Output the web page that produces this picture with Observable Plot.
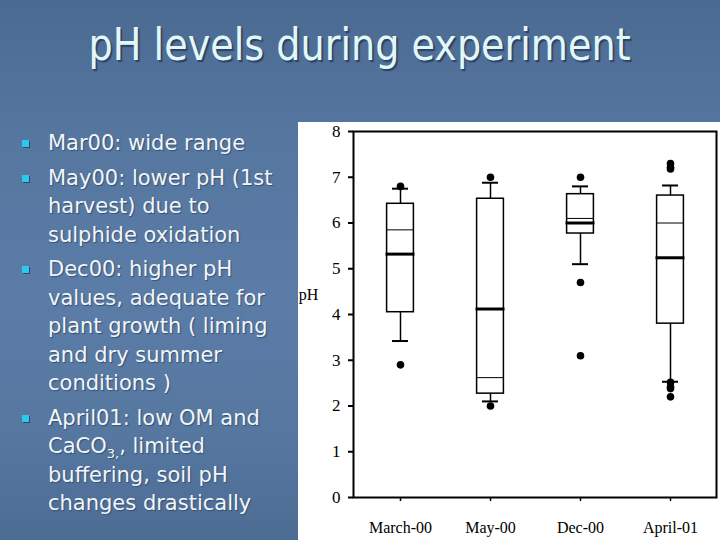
<!DOCTYPE html>
<html>
<head>
<meta charset="utf-8">
<script src="https://cdn.jsdelivr.net/npm/d3@7"></script>
<script src="https://cdn.jsdelivr.net/npm/@observablehq/plot@0.6"></script>
<style>
  html, body { margin: 0; padding: 0; }
  body {
    width: 720px; height: 540px; overflow: hidden; position: relative;
    background: linear-gradient(180deg, #4b6a92 0%, #55769f 25%, #5a7ca6 55%, #5577a0 80%, #4d6c94 100%);
    font-family: "DejaVu Sans", sans-serif;
  }
  #title {
    position: absolute; left: 0; width: 720px; top: 19px; text-align: center;
    font-size: 44px; color: #e2f8f8; white-space: nowrap;
    text-shadow: 2px 2px 1px #2a4266;
  }
  #title span { display: inline-block; transform: scaleX(0.867); transform-origin: center; }
  #bullets {
    position: absolute; left: 0; top: 129px; width: 298px;
    color: #f2f6f6; font-size: 21px; line-height: 28.5px;
    text-shadow: 1px 1px 1px #33507a;
  }
  .item { position: relative; padding-left: 48px; margin-bottom: 6px; white-space: nowrap; }
  .item::before {
    content: ""; position: absolute; left: 22px; top: 11px; width: 7px; height: 7px;
    background: #2ec8ee; box-shadow: 1px 1px 0 #2a4a70;
  }
  sub { font-size: 13px; line-height: 0; vertical-align: -5px; }
  #panel { position: absolute; left: 298px; top: 122px; width: 422px; height: 418px; background: white; }
</style>
</head>
<body>
<div id="title"><span>pH levels during experiment</span></div>
<div id="bullets">
  <div class="item">Mar00: wide range</div>
  <div class="item">May00: lower pH (1st<br>harvest) due to<br>sulphide oxidation</div>
  <div class="item">Dec00: higher pH<br>values, adequate for<br>plant growth ( liming<br>and dry summer<br>conditions )</div>
  <div class="item">April01: low OM and<br>CaCO<sub>3,</sub>, limited<br>buffering, soil pH<br>changes drastically</div>
</div>
<div id="panel"></div>
<script>
const categories = ["March-00", "May-00", "Dec-00", "April-01"];
const q1 = [4.05, 2.27, 5.77, 3.80];
const q3 = [6.42, 6.53, 6.63, 6.60];
const medians = [5.32, 4.12, 6.00, 5.24];
const means = [5.85, 2.62, 6.10, 6.00];
const whiskerLow = [3.42, 2.10, 5.10, 2.53];
const whiskerHigh = [6.75, 6.88, 6.80, 6.82];
const outlierCats = ["March-00", "March-00", "May-00", "May-00", "Dec-00", "Dec-00", "Dec-00",
  "April-01", "April-01", "April-01", "April-01", "April-01", "April-01", "April-01"];
const outlierValues = [6.80, 2.90, 7.00, 2.00, 7.00, 4.70, 3.10,
  7.30, 7.22, 7.18, 2.52, 2.42, 2.38, 2.20];
const yTicks = [0, 1, 2, 3, 4, 5, 6, 7, 8];
const yLabel = "pH";

const idx = categories.map((_, i) => i);
const outliers = outlierCats.map((c, i) => ({cat: c, value: outlierValues[i]}));

const chart = Plot.plot({
  width: 422, height: 418,
  marginLeft: 55, marginRight: 4, marginTop: 9, marginBottom: 43,
  style: {fontFamily: "'Liberation Serif', serif", fontSize: "16px", background: "white", color: "black", overflow: "visible"},
  x: {domain: categories, padding: 0, label: null},
  y: {domain: [0, 8], label: null},
  marks: [
    Plot.frame({stroke: "black", strokeWidth: 2}),
    Plot.axisY({ticks: yTicks, tickSize: 5, tickPadding: 8, label: null, fontSize: 17, strokeWidth: 2}),
    Plot.axisX({tickSize: 4, tickPadding: 20, label: null, fontSize: 16, strokeWidth: 1.5}),
    Plot.text([yLabel], {frameAnchor: "left", dx: -45, dy: -20, text: d => d, fontSize: 16, textAnchor: "middle"}),
    Plot.ruleX(idx, {x: i => categories[i], y1: i => whiskerLow[i], y2: i => q1[i], stroke: "black", strokeWidth: 1.5}),
    Plot.ruleX(idx, {x: i => categories[i], y1: i => q3[i], y2: i => whiskerHigh[i], stroke: "black", strokeWidth: 1.5}),
    Plot.tickY(idx, {x: i => categories[i], y: i => whiskerLow[i], insetLeft: 37, insetRight: 37, stroke: "black", strokeWidth: 2}),
    Plot.tickY(idx, {x: i => categories[i], y: i => whiskerHigh[i], insetLeft: 37, insetRight: 37, stroke: "black", strokeWidth: 2}),
    Plot.barY(idx, {x: i => categories[i], y1: i => q1[i], y2: i => q3[i], insetLeft: 31.6, insetRight: 31.6, fill: "white", stroke: "black", strokeWidth: 1.5}),
    Plot.tickY(idx, {x: i => categories[i], y: i => means[i], insetLeft: 31.6, insetRight: 31.6, stroke: "black", strokeWidth: 1}),
    Plot.tickY(idx, {x: i => categories[i], y: i => medians[i], insetLeft: 30.5, insetRight: 30.5, stroke: "black", strokeWidth: 3}),
    Plot.dot(outliers, {x: "cat", y: "value", r: 3.8, fill: "black", stroke: "none"})
  ]
});
document.getElementById("panel").appendChild(chart);
</script>
</body>
</html>
